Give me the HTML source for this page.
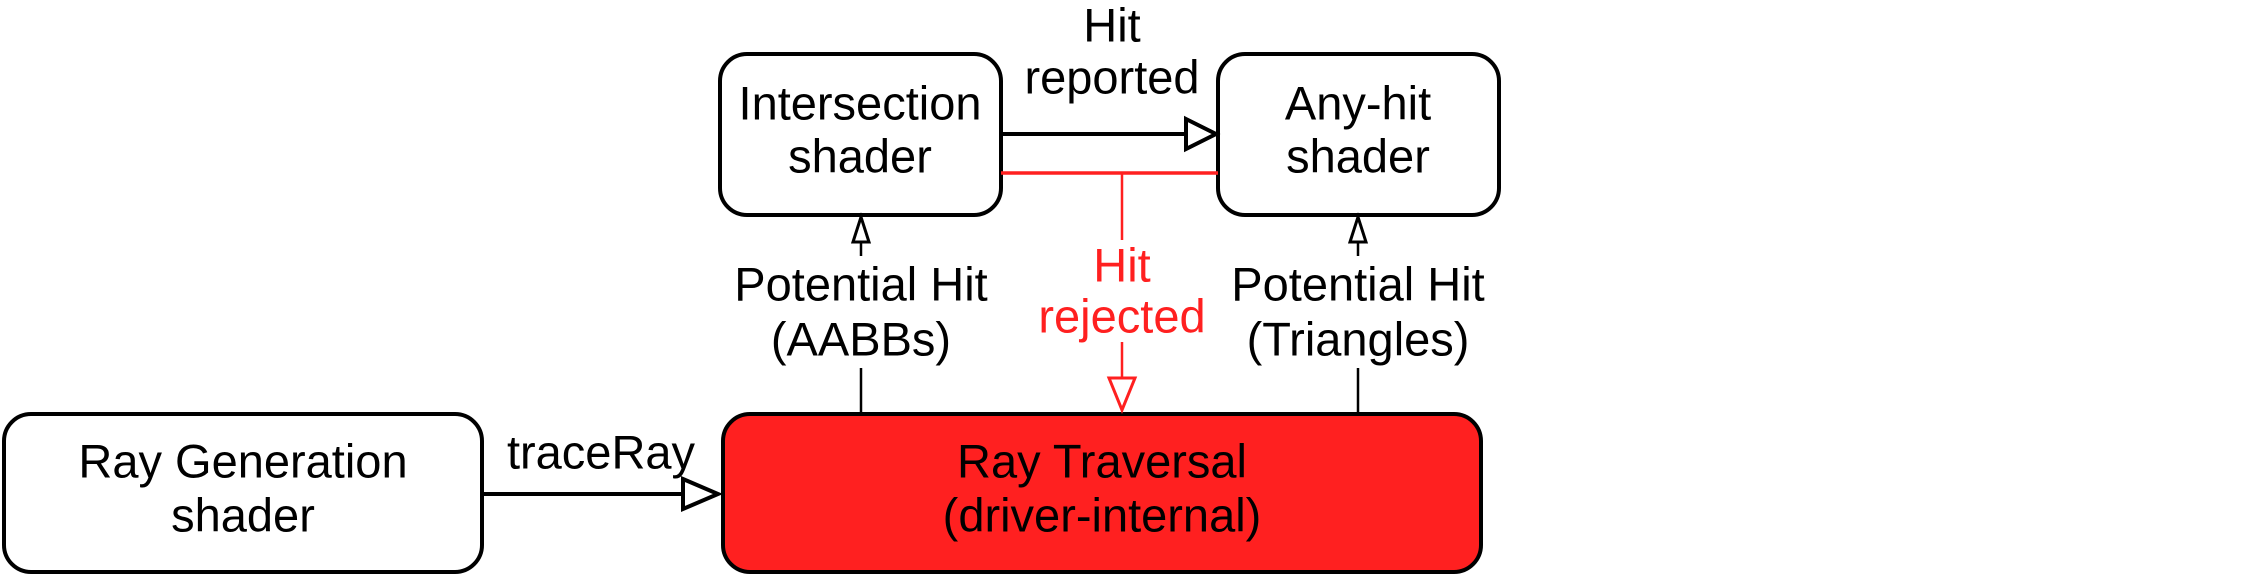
<!DOCTYPE html>
<html><head><meta charset="utf-8"><style>
html,body{margin:0;padding:0;background:#fff;}
svg{display:block;}
text{font-family:"Liberation Sans",Arial,sans-serif;font-size:47px;text-anchor:middle;dominant-baseline:central;}
</style></head><body>
<svg width="2244" height="576" viewBox="0 0 2244 576" xmlns="http://www.w3.org/2000/svg">
<rect width="2244" height="576" fill="#fff"/>
<rect x="4" y="414" width="478" height="158" rx="27" fill="#fff" stroke="#000" stroke-width="4"/>
<rect x="723" y="414" width="758" height="158" rx="27" fill="#ff2020" stroke="#000" stroke-width="4"/>
<rect x="720" y="54" width="281" height="161" rx="27" fill="#fff" stroke="#000" stroke-width="4"/>
<rect x="1218" y="54" width="281" height="161" rx="27" fill="#fff" stroke="#000" stroke-width="4"/>
<text x="243" y="461">Ray Generation</text>
<text x="243" y="515">shader</text>
<text x="1102" y="461">Ray Traversal</text>
<text x="1102" y="515">(driver-internal)</text>
<text x="860" y="103">Intersection</text>
<text x="860" y="156">shader</text>
<text x="1358" y="103">Any-hit</text>
<text x="1358" y="156">shader</text>
<line x1="482" y1="494" x2="683" y2="494" stroke="#000" stroke-width="4"/>
<polygon points="683,479 718,494 683,509" fill="#fff" stroke="#000" stroke-width="4"/>
<text x="601" y="452">traceRay</text>
<line x1="1001" y1="134" x2="1186" y2="134" stroke="#000" stroke-width="4"/>
<polygon points="1186,119 1216,134 1186,149" fill="#fff" stroke="#000" stroke-width="4"/>
<text x="1112" y="25">Hit</text>
<text x="1112" y="77">reported</text>
<line x1="1001" y1="173" x2="1218" y2="173" stroke="#ff2020" stroke-width="3.5"/>
<line x1="1122" y1="173" x2="1122" y2="240" stroke="#ff2020" stroke-width="2.5"/>
<line x1="1122" y1="342" x2="1122" y2="378" stroke="#ff2020" stroke-width="2.5"/>
<polygon points="1109,378 1122,410 1135,378" fill="#fff" stroke="#ff2020" stroke-width="3"/>
<text x="1122" y="265" fill="#ff2020">Hit</text>
<text x="1122" y="316" fill="#ff2020">rejected</text>
<line x1="861" y1="414" x2="861" y2="368" stroke="#000" stroke-width="2.5"/>
<line x1="861" y1="256" x2="861" y2="242" stroke="#000" stroke-width="2.5"/>
<polygon points="853,242 861,217 869,242" fill="#fff" stroke="#000" stroke-width="3"/>
<text x="861" y="284">Potential Hit</text>
<text x="861" y="339">(AABBs)</text>
<line x1="1358" y1="414" x2="1358" y2="368" stroke="#000" stroke-width="2.5"/>
<line x1="1358" y1="256" x2="1358" y2="242" stroke="#000" stroke-width="2.5"/>
<polygon points="1350,242 1358,217 1366,242" fill="#fff" stroke="#000" stroke-width="3"/>
<text x="1358" y="284">Potential Hit</text>
<text x="1358" y="339">(Triangles)</text>
</svg>
</body></html>
